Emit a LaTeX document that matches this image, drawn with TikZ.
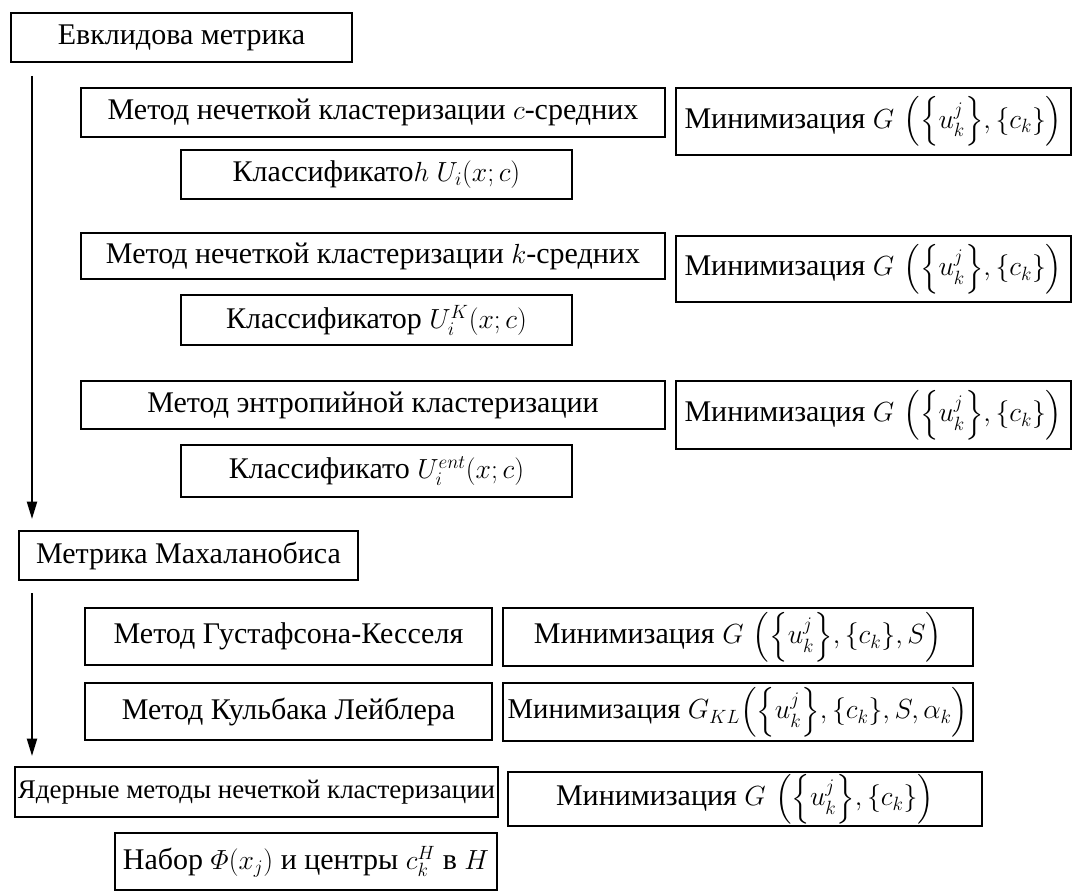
\documentclass[tikz,border=0pt]{standalone}
\usepackage{amsmath}
\usepackage{fontspec}
\setmainfont{Liberation Serif}
\usetikzlibrary{arrows.meta,calc}
\begin{document}
\begin{tikzpicture}[x=0.75pt,y=-0.75pt,
  box/.style={draw, line width=1.5pt, inner sep=0pt, font=\fontsize{22.5}{27}\selectfont},
  smallbox/.style={box, font=\fontsize{20.2}{24}\selectfont},
  arr/.style={line width=1.5pt, -{Triangle[length=13pt,width=7.5pt]}}]
\useasboundingbox (0,0) rectangle (1073,891);
% Euclid
\node[box, minimum width=255.75pt, minimum height=36.75pt] (A) at (181.5,37.5) {Евклидова метрика};
\node[box, minimum width=438pt, minimum height=36.75pt] (B1) at (373,112.5) {Метод нечеткой кластеризации $c$-средних};
\node[box, minimum width=296.25pt, minimum height=50.25pt] (R1) at (873.5,121.5) {Минимизация $G\,\left(\left\{u_k^j\right\}\!,\{c_k\}\right)$};
\node[box, minimum width=293.25pt, minimum height=36.75pt] (C1) at (376.5,174.5) {Классификато$h$ $U_i(x;c)$};
\node[box, minimum width=438pt, minimum height=34.5pt] (B2) at (373,256) {Метод нечеткой кластеризации $k$-средних};
\node[box, minimum width=296.25pt, minimum height=49.5pt] (R2) at (873.5,269) {Минимизация $G\,\left(\left\{u_k^j\right\}\!,\{c_k\}\right)$};
\node[box, minimum width=293.25pt, minimum height=37.5pt] (C2) at (376.5,320) {Классификатор $U_i^K(x;c)$};
\node[box, minimum width=438pt, minimum height=36pt] (B3) at (373,405) {Метод энтропийной кластеризации};
\node[box, minimum width=296.25pt, minimum height=51pt] (R3) at (873.5,415) {Минимизация $G\,\left(\left\{u_k^j\right\}\!,\{c_k\}\right)$};
\node[box, minimum width=293.25pt, minimum height=39pt] (C3) at (376.5,471) {Классификато $U_i^{ent}(x;c)$};
% Mahalanobis
\node[box, minimum width=254.25pt, minimum height=36.75pt] (M) at (188.5,555.5) {Метрика Махаланобиса};
\node[box, minimum width=305.25pt, minimum height=42.75pt] (D1) at (288.5,636.5) {Метод Густафсона-Кесселя};
\node[box, minimum width=305.25pt, minimum height=42.75pt] (D2) at (288.5,711.5) {Метод Кульбака Лейблера};
\node[box, minimum width=352.5pt, minimum height=43.5pt] (E1) at (738,637) {Минимизация $G\,\left(\left\{u_k^j\right\}\!,\{c_k\},S\right)$};
\node[box, minimum width=352.5pt, minimum height=43.5pt, font=\fontsize{21.5}{26}\selectfont] (E2) at (738,712) {Минимизация $G_{KL}\!\left(\left\{u_k^j\right\}\!,\{c_k\},S,\alpha_k\right)$};
% Kernel
\node[smallbox, minimum width=362.25pt, minimum height=37.5pt] (K) at (256.5,792) {Ядерные методы нечеткой кластеризации};
\node[box, minimum width=355.5pt, minimum height=40.5pt] (KR) at (745,799) {Минимизация $G\,\left(\left\{u_k^j\right\}\!,\{c_k\}\right)$};
\node[box, minimum width=286.5pt, minimum height=42.75pt] (L) at (306,861.5) {Набор $\varPhi(x_j)$ и центры $c_k^H$ в $H$};
% arrows
\coordinate (s1) at ($(A.south west)+(22,13)$);
\coordinate (s2) at ($(M.south west)+(14,12)$);
\draw[arr] (s1) -- ($(s1 |- M.north)+(0,-11)$);
\draw[arr] (s2) -- ($(s2 |- K.north)+(0,-10)$);
\end{tikzpicture}
\end{document}
